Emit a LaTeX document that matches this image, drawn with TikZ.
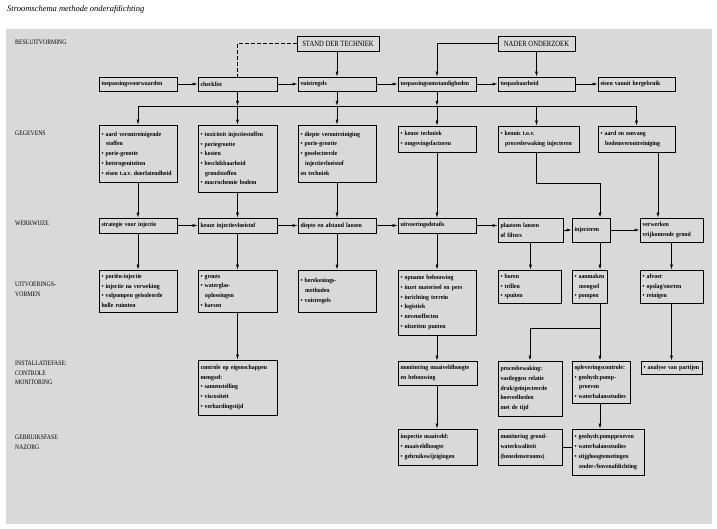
\documentclass[tikz,border=0pt]{standalone}
\usepackage{fontspec}
\setmainfont{Liberation Serif}
\newfontfamily\boxfam[FakeStretch=0.92]{Liberation Serif}
\newfontfamily\capfam[FakeStretch=0.85]{Liberation Serif}
\newfontfamily\hdfam[FakeStretch=0.83]{Liberation Serif}
\usetikzlibrary{arrows.meta}
\definecolor{bg}{HTML}{D9D9D9}
\newcommand\bxf{\boxfam\bfseries\fontsize{6.3}{9.7}\selectfont\frenchspacing}
\newcommand\myb{\textbullet\ }
\newcommand\myi{\hspace*{0.75em}}
\tikzset{
 bx/.style 2 args={draw, line width=0.7pt, inner xsep=2.5pt, inner ysep=1pt, text width=#1pt, minimum height=#2pt, align=left, font=\bxf},
 arr/.style={line width=0.7pt, -{Latex[length=5pt,width=3pt]}},
 ln/.style={line width=0.7pt},
 cat/.style={anchor=base west, inner sep=0pt, align=left, font=\capfam\fontsize{6.8}{9.5}\selectfont},
 hd/.style={draw, line width=0.7pt, minimum height=15pt, inner sep=1pt, font=\hdfam\fontsize{8}{9}\selectfont}
}
\begin{document}
\begin{tikzpicture}[x=1pt,y=-1pt]
\useasboundingbox (0,0) rectangle (717,529);
\fill[bg] (6,29) rectangle (712,524);
\node[anchor=west, inner sep=0pt, font=\itshape\fontsize{8.5}{9}\selectfont] (title) at (7,9.5) {Stroomschema methode onderafdichting};

% category labels (base = last line)
\node[cat] (l1) at (15,45) {BESLUITVORMING};
\node[cat] (l2) at (15,135.5) {GEGEVENS};
\node[cat] (l3) at (15,226) {WERKWIJZE};
\node[cat] (l4) at (15,296.5) {UITVOERINGS-\\VORMEN};
\node[cat] (l5) at (15,384.5) {INSTALLATIEFASE:\\CONTROLE\\MONITORING};
\node[cat] (l6) at (15,449) {GEBRUIKSFASE\\NAZORG};

% top
\node[hd, minimum width=82pt] (std) at (338,43.5) {STAND DER TECHNIEK};
\node[hd, minimum width=77pt] (nad) at (536.5,43.5) {NADER ONDERZOEK};

% row 1
\node[bx={73}{14}] (tv) at (138,84) {toepassingsvoorwaarden};
\node[bx={74}{14}] (cl) at (237.5,84) {checklist};
\node[bx={73}{14}] (vr) at (337,84) {vuistregels};
\node[bx={73}{14}] (to) at (437,84) {toepassingsomstandigheden};
\node[bx={72}{14}] (tb) at (536.5,84) {toepasbaarheid};
\node[bx={72}{14}] (eh) at (636.5,84) {eisen vanuit hergebruik};

% gegevens
\node[bx={73}{57}] (g1) at (138,153.5) {\myb aard verontreinigende\\\myi stoffen\\\myb porie-grootte\\\myb heterogeniteiten\\\myb eisen t.a.v. doorlatendheid};
\node[bx={74}{67}] (g2) at (237.5,158.5) {\myb toxiciteit injectiestoffen\\\myb poriegrootte\\\myb kosten\\\myb beschikbaarheid\\\myi grondstoffen\\\myb macrochemie bodem};
\node[bx={73}{57}] (g3) at (337,153.5) {\myb diepte verontreiniging\\\myb porie-grootte\\\myb geselecteerde\\\myi injectievloeistof\\en techniek};
\node[bx={73}{26}] (g4) at (437,139) {\myb keuze techniek\\\myb omgevingsfactoren};
\node[bx={76}{26}] (g5) at (538.5,139) {\myb kennis t.o.v.\\\myi procesbewaking injecteren};
\node[bx={72}{26}] (g6) at (636.5,139) {\myb aard en omvang\\\myi bodemverontreiniging};

% werkwijze
\node[bx={73}{15}] (w1) at (138,225.5) {strategie voor injectie};
\node[bx={74}{15}] (w2) at (237.5,225.5) {keuze injectievloeistof};
\node[bx={73}{15}] (w3) at (337,225.5) {diepte en afstand lansen};
\node[bx={73}{15}] (w4) at (437,225.5) {uitvoeringsdetails};
\node[bx={60}{24}] (w5) at (530.5,230) {plaatsen lansen\\of filters};
\node[bx={33}{24}] (w6) at (591,230) {injecteren};
\node[bx={58}{24}] (w7) at (671.5,230) {verwerken\\vrijkomende grond};

% uitvoeringsvormen
\node[bx={73}{42}] (u1) at (138,291) {\myb poriën-injectie\\\myb injectie na verweking\\\myb volpompen geïsoleerde\\holle ruimten};
\node[bx={74}{42}] (u2) at (237.5,291) {\myb grouts\\\myb waterglas-\\\myi oplossingen\\\myb harsen};
\node[bx={73}{42}] (u3) at (337,291) {\myb berekenings-\\\myi methoden\\\myb vuistregels};
\node[bx={73}{65}] (u4) at (437,302.5) {\myb opname bebouwing\\\myb inzet materieel en pers\\\myb inrichting terrein\\\myb logistiek\\\myb neveneffecten\\\myb uitzetten punten};
\node[bx={58}{33}] (u5) at (529.5,286.5) {\myb boren\\\myb trillen\\\myb spuiten};
\node[bx={30}{33}] (u6) at (589.5,286.5) {\myb aanmaken\\\myi mengsel\\\myb pompen};
\node[bx={58}{33}] (u7) at (671.5,286.5) {\myb afvoer\\\myb opslag/storten\\\myb reinigen};

% installatiefase
\node[bx={74}{55}] (i2) at (237.5,387.5) {controle op eigenschappen\\mengsel:\\\myb samenstelling\\\myb viscositeit\\\myb verhardingstijd};
\node[bx={74}{24}] (i4) at (437.5,373) {monitoring maaiveldhoogte\\en bebouwing};
\node[bx={59}{55}] (i5) at (530,388.5) {procesbewaking:\\vastleggen relatie\\druk/geïnjecteerde\\hoeveelheden\\met de tijd};
\node[bx={53}{42}] (i6) at (601,382) {opleveringscontrole:\\\myb geohydr.pomp-\\\myi proeven\\\myb waterbalansstudies};
\node[bx={56}{13}] (i7) at (671.5,367.5) {\myb analyse van partijen};

% gebruiksfase
\node[bx={74}{36}] (n4) at (437.5,447) {inspectie maaiveld:\\\myb maaiveldhoogte\\\myb gebruikswijzigingen};
\node[bx={59}{36}] (n5) at (530,447) {monitoring grond-\\waterkwaliteit\\(benedenstrooms)};
\node[bx={67}{46}] (n6) at (608,452) {\myb geohydr.pompproeven\\\myb waterbalansstudies\\\myb stijghoogtemetingen\\\myi onder-/bovenafdichting};

% helper coordinates
\coordinate (busL) at (138,106);
\coordinate (busR) at (636.5,106);
\coordinate (colF) at (600,0);
\coordinate (colG) at (658,0);
\coordinate (kE) at (600,183);
\coordinate (jF) at (600,328);

% top connectors
\draw[ln, dash pattern=on 4pt off 2pt] (std.west) -| (cl.north);
\draw[arr] (vr.north |- std.south) -- (vr.north);
\draw[arr] (nad.west) -| (to.north);
\draw[arr] (nad.south) -- (tb.north);

% row 1 horizontals
\draw[arr] (tv.east) -- (cl.west);
\draw[arr] (cl.east) -- (vr.west);
\draw[arr] (vr.east) -- (to.west);
\draw[arr] (to.east) -- (tb.west);
\draw[arr] (tb.east) -- (eh.west);

% bus
\draw[ln] (busL) -- (busR);
\draw[arr] (cl.south) -- (cl.south |- busL);
\draw[arr] (vr.south) -- (vr.south |- busL);
\draw[arr] (to.south) -- (to.south |- busL);
\draw[arr] (tv.south |- busL) -- (tv.south |- g1.north);
\draw[arr] (cl.south |- busL) -- (cl.south |- g2.north);
\draw[arr] (vr.south |- busL) -- (vr.south |- g3.north);
\draw[arr] (to.south |- busL) -- (to.south |- g4.north);
\draw[arr] (tb.south |- busL) -- (tb.south |- g5.north);
\draw[arr] (eh.south |- busL) -- (eh.south |- g6.north);

% gegevens -> werkwijze
\draw[arr] (g1.south) -- (w1.north);
\draw[arr] (g2.south) -- (w2.north);
\draw[arr] (g3.south) -- (w3.north);
\draw[arr] (g4.south) -- (w4.north);
\draw[arr] (tb.south |- g5.south) |- (kE) -- (kE |- w6.north);
\draw[arr] (colG |- g6.south) -- (colG |- w7.north);

% werkwijze horizontals
\draw[arr] (w1.east) -- (w2.west);
\draw[arr] (w2.east) -- (w3.west);
\draw[arr] (w3.east) -- (w4.west);
\draw[arr] (w4.east) -- (w4.east -| w5.west);
\draw[arr] (w5.east) -- (w6.west);
\draw[arr] (w6.east) -- (w7.west);

% werkwijze -> uitvoeringsvormen
\draw[arr] (w1.south) -- (u1.north);
\draw[arr] (w2.south) -- (u2.north);
\draw[arr] (w3.south) -- (u3.north);
\draw[arr] (w4.south) -- (u4.north);
\draw[arr] (w5.south) -- (w5.south |- u5.north);
\draw[arr] (colF |- w6.south) -- (colF |- u6.north);
\draw[arr] (w7.south) -- (w7.south |- u7.north);

% uitvoeringsvormen -> installatiefase
\draw[arr] (u2.south) -- (u2.south |- i2.north);
\draw[arr] (u4.south) -- (u4.south |- i4.north);
\draw[ln] (colF |- u6.south) -- (jF);
\draw[arr] (jF) -- (jF |- i6.north);
\draw[arr] (jF) -| (i5.north);
\draw[arr] (u7.south) -- (u7.south |- i7.north);

% installatiefase -> gebruiksfase
\draw[arr] (u4.south |- i4.south) -- (u4.south |- n4.north);
\draw[arr] (colF |- i6.south) -- (colF |- n6.north);
\draw[ln] (n5.east) -- (n5.east -| n6.west);
\end{tikzpicture}
\end{document}
